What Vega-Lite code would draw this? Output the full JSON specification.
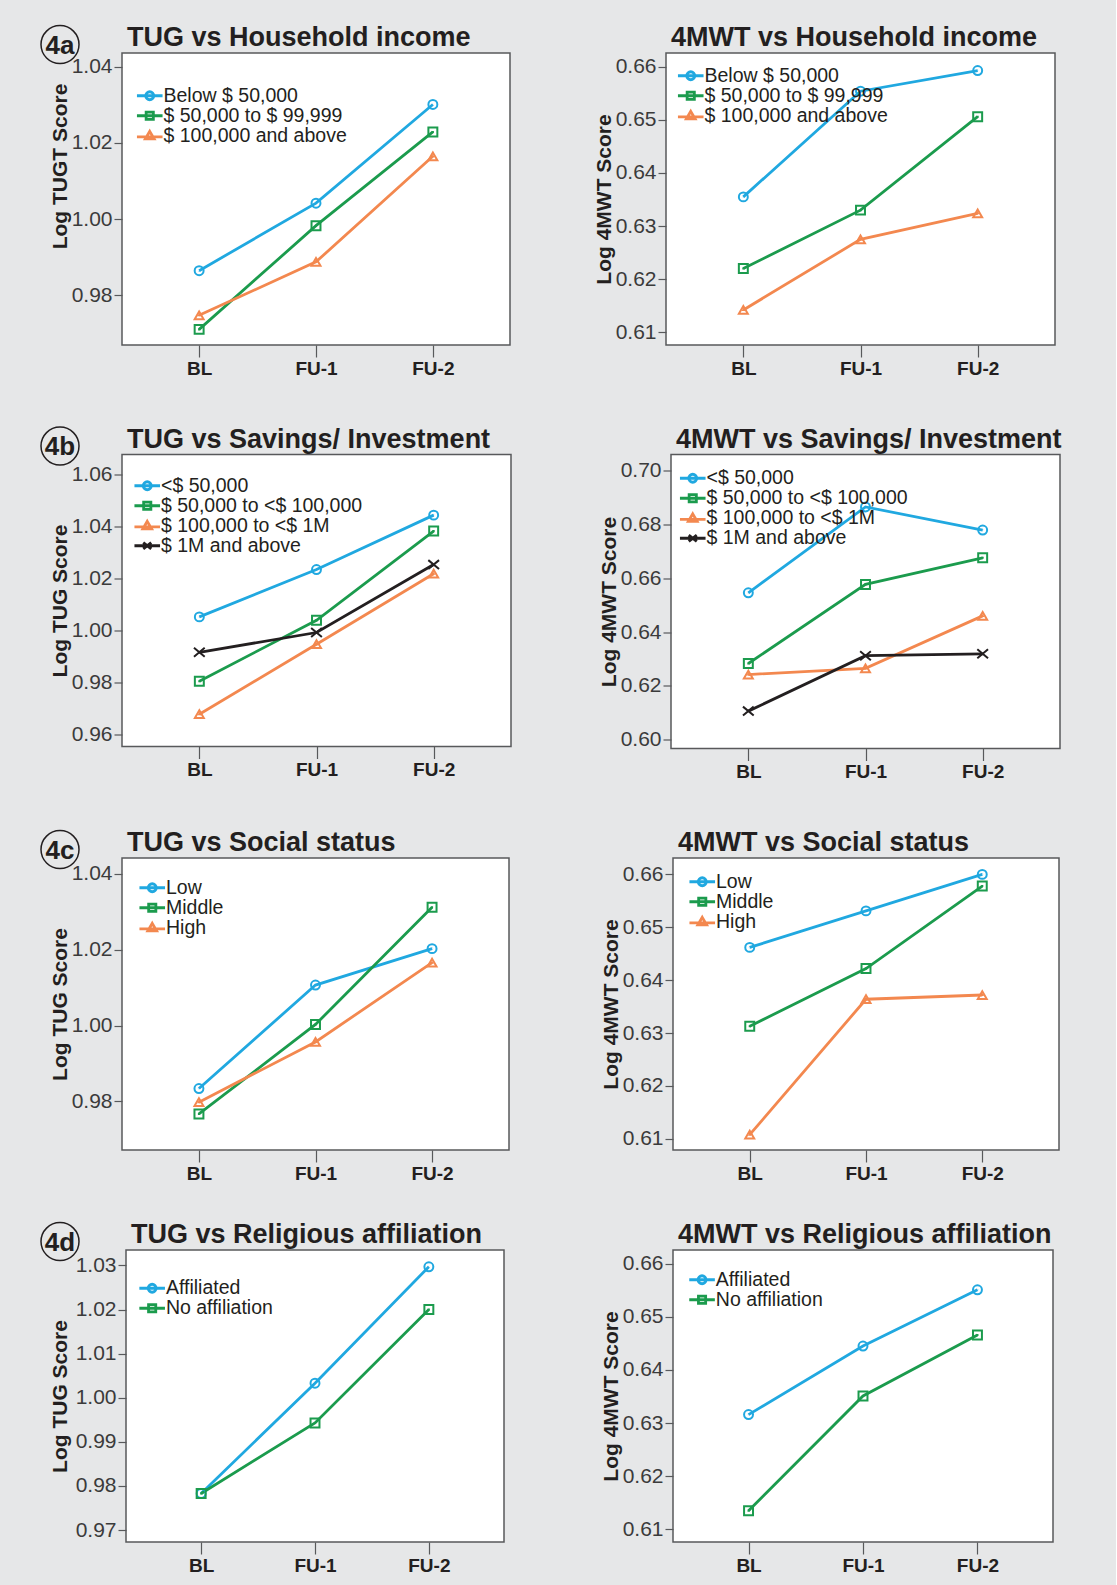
{
  "$schema": "https://vega.github.io/schema/vega-lite/v6.json",
  "background": "#e6e7e8",
  "padding": {"left": 38, "top": 22, "right": 53, "bottom": 10},
  "config": {
    "font": "Liberation Sans",
    "view": {"fill": "white", "stroke": "#58595b", "strokeWidth": 1.5},
    "title": {"anchor": "start", "frame": "group", "fontSize": 27, "fontWeight": "bold", "color": "#231f20", "offset": 1, "dx": 5, "baseline": "alphabetic"},
    "axisY": {"labelFontSize": 21, "labelColor": "#3b3b3b", "tickSize": 8, "tickColor": "#58595b", "tickWidth": 1.2, "labelPadding": 2, "domain": false, "grid": false, "titleFontSize": 21, "titleFontWeight": "bold", "titleColor": "#231f20", "titlePadding": 2, "minExtent": 50, "maxExtent": 50},
    "axisX": {"labelFontSize": 19, "labelFontWeight": "bold", "labelColor": "#231f20", "tickSize": 12, "tickColor": "#58595b", "tickWidth": 1.2, "labelPadding": 2, "domain": false, "grid": false, "labelAngle": 0},
    "legend": {"labelFontSize": 19.5, "labelColor": "#231f20", "padding": 0, "rowPadding": -4.5, "symbolStrokeWidth": 2, "labelLimit": 400, "symbolSize": 256, "labelOffset": 4, "direction": "vertical", "orient": "none", "title": null},
    "point": {"filled": false, "strokeWidth": 2, "size": 80, "opacity": 1},
    "line": {"strokeWidth": 2.8}
  },
  "datasets": {
    "a_tug": [
      {"time": "BL", "group": "Below $ 50,000", "value": 0.9865},
      {"time": "FU-1", "group": "Below $ 50,000", "value": 1.0042},
      {"time": "FU-2", "group": "Below $ 50,000", "value": 1.0301},
      {"time": "BL", "group": "$ 50,000 to $ 99,999", "value": 0.9711},
      {"time": "FU-1", "group": "$ 50,000 to $ 99,999", "value": 0.9983},
      {"time": "FU-2", "group": "$ 50,000 to $ 99,999", "value": 1.0229},
      {"time": "BL", "group": "$ 100,000 and above", "value": 0.9748},
      {"time": "FU-1", "group": "$ 100,000 and above", "value": 0.9888},
      {"time": "FU-2", "group": "$ 100,000 and above", "value": 1.0165}
    ],
    "a_mwt": [
      {"time": "BL", "group": "Below $ 50,000", "value": 0.6355},
      {"time": "FU-1", "group": "Below $ 50,000", "value": 0.6554},
      {"time": "FU-2", "group": "Below $ 50,000", "value": 0.6593},
      {"time": "BL", "group": "$ 50,000 to $ 99,999", "value": 0.6220},
      {"time": "FU-1", "group": "$ 50,000 to $ 99,999", "value": 0.6330},
      {"time": "FU-2", "group": "$ 50,000 to $ 99,999", "value": 0.6506},
      {"time": "BL", "group": "$ 100,000 and above", "value": 0.6142},
      {"time": "FU-1", "group": "$ 100,000 and above", "value": 0.6275},
      {"time": "FU-2", "group": "$ 100,000 and above", "value": 0.6324}
    ],
    "b_tug": [
      {"time": "BL", "group": "<$ 50,000", "value": 1.0051},
      {"time": "FU-1", "group": "<$ 50,000", "value": 1.0233},
      {"time": "FU-2", "group": "<$ 50,000", "value": 1.0442},
      {"time": "BL", "group": "$ 50,000 to <$ 100,000", "value": 0.9804},
      {"time": "FU-1", "group": "$ 50,000 to <$ 100,000", "value": 1.0038},
      {"time": "FU-2", "group": "$ 50,000 to <$ 100,000", "value": 1.0381},
      {"time": "BL", "group": "$ 100,000 to <$ 1M", "value": 0.9677},
      {"time": "FU-1", "group": "$ 100,000 to <$ 1M", "value": 0.9946},
      {"time": "FU-2", "group": "$ 100,000 to <$ 1M", "value": 1.0217},
      {"time": "BL", "group": "$ 1M and above", "value": 0.9915},
      {"time": "FU-1", "group": "$ 1M and above", "value": 0.9991},
      {"time": "FU-2", "group": "$ 1M and above", "value": 1.0252}
    ],
    "b_mwt": [
      {"time": "BL", "group": "<$ 50,000", "value": 0.6546},
      {"time": "FU-1", "group": "<$ 50,000", "value": 0.6865},
      {"time": "FU-2", "group": "<$ 50,000", "value": 0.6779},
      {"time": "BL", "group": "$ 50,000 to <$ 100,000", "value": 0.6283},
      {"time": "FU-1", "group": "$ 50,000 to <$ 100,000", "value": 0.6577},
      {"time": "FU-2", "group": "$ 50,000 to <$ 100,000", "value": 0.6676},
      {"time": "BL", "group": "$ 100,000 to <$ 1M", "value": 0.6242},
      {"time": "FU-1", "group": "$ 100,000 to <$ 1M", "value": 0.6265},
      {"time": "FU-2", "group": "$ 100,000 to <$ 1M", "value": 0.6460},
      {"time": "BL", "group": "$ 1M and above", "value": 0.6106},
      {"time": "FU-1", "group": "$ 1M and above", "value": 0.6312},
      {"time": "FU-2", "group": "$ 1M and above", "value": 0.6319}
    ],
    "c_tug": [
      {"time": "BL", "group": "Low", "value": 0.9834},
      {"time": "FU-1", "group": "Low", "value": 1.0107},
      {"time": "FU-2", "group": "Low", "value": 1.0203},
      {"time": "BL", "group": "Middle", "value": 0.9767},
      {"time": "FU-1", "group": "Middle", "value": 1.0003},
      {"time": "FU-2", "group": "Middle", "value": 1.0312},
      {"time": "BL", "group": "High", "value": 0.9798},
      {"time": "FU-1", "group": "High", "value": 0.9957},
      {"time": "FU-2", "group": "High", "value": 1.0166}
    ],
    "c_mwt": [
      {"time": "BL", "group": "Low", "value": 0.6462},
      {"time": "FU-1", "group": "Low", "value": 0.6531},
      {"time": "FU-2", "group": "Low", "value": 0.6600},
      {"time": "BL", "group": "Middle", "value": 0.6313},
      {"time": "FU-1", "group": "Middle", "value": 0.6422},
      {"time": "FU-2", "group": "Middle", "value": 0.6578},
      {"time": "BL", "group": "High", "value": 0.6108},
      {"time": "FU-1", "group": "High", "value": 0.6364},
      {"time": "FU-2", "group": "High", "value": 0.6372}
    ],
    "d_tug": [
      {"time": "BL", "group": "Affiliated", "value": 0.9783},
      {"time": "FU-1", "group": "Affiliated", "value": 1.0033},
      {"time": "FU-2", "group": "Affiliated", "value": 1.0297},
      {"time": "BL", "group": "No affiliation", "value": 0.9783},
      {"time": "FU-1", "group": "No affiliation", "value": 0.9943},
      {"time": "FU-2", "group": "No affiliation", "value": 1.0200}
    ],
    "d_mwt": [
      {"time": "BL", "group": "Affiliated", "value": 0.6316},
      {"time": "FU-1", "group": "Affiliated", "value": 0.6445},
      {"time": "FU-2", "group": "Affiliated", "value": 0.6551},
      {"time": "BL", "group": "No affiliation", "value": 0.6135},
      {"time": "FU-1", "group": "No affiliation", "value": 0.6351},
      {"time": "FU-2", "group": "No affiliation", "value": 0.6466}
    ]
  },
  "resolve": {"scale": {"color": "independent", "shape": "independent"}, "legend": {"color": "independent", "shape": "independent"}},
  "vconcat": [
    {
      "resolve": {"scale": {"color": "independent", "shape": "independent"}, "legend": {"color": "independent", "shape": "independent"}},
      "vconcat": [
        {
          "resolve": {"scale": {"color": "independent", "shape": "independent"}, "legend": {"color": "independent", "shape": "independent"}},
          "hconcat": [
            {
              "resolve": {"scale": {"color": "independent", "shape": "independent"}, "legend": {"color": "independent", "shape": "independent"}},
              "hconcat": [
                {
                  "width": 38, "height": 1,
                  "view": {"fill": null, "stroke": null},
                  "data": {"values": [{"label": "4a"}]},
                  "layer": [
                    {"mark": {"type": "point", "shape": "M1,-0.47A1,1,0,1,1,-1,-0.47A1,1,0,1,1,1,-0.47Z", "size": 1444, "filled": false, "stroke": "#231f20", "strokeWidth": 1.5, "opacity": 1}, "encoding": {}},
                    {"mark": {"type": "text", "fontSize": 26, "fontWeight": "bold", "color": "#231f20", "baseline": "alphabetic"}, "encoding": {"text": {"field": "label"}}}
                  ]
                },
                {
                  "width": 388, "height": 292,
                  "title": "TUG vs Household income",
                  "data": {"name": "a_tug"},
                  "encoding": {
                    "x": {"field": "time", "type": "ordinal", "scale": {"type": "point", "domain": ["BL", "FU-1", "FU-2"], "padding": 0.66}, "axis": {"title": null}},
                    "y": {"field": "value", "type": "quantitative", "scale": {"domain": [0.967, 1.0436], "nice": false, "zero": false}, "axis": {"title": "Log TUGT Score", "titleY": 113, "values": [0.98, 1.0, 1.02, 1.04], "format": ".2f"}},
                    "color": {"field": "group", "type": "nominal", "scale": {"domain": ["Below $ 50,000", "$ 50,000 to $ 99,999", "$ 100,000 and above"], "range": ["#20a8e0", "#1b9b4d", "#f3884f"]}, "legend": {"legendX": 18, "legendY": 33}}
                  },
                  "layer": [
                    {"mark": {"type": "line"}, "encoding": {}},
                    {"mark": {"type": "point", "size": 0.01}, "encoding": {"shape": {"field": "group", "type": "nominal", "scale": {"domain": ["Below $ 50,000", "$ 50,000 to $ 99,999", "$ 100,000 and above"], "range": ["M-1.6,0L1.6,0M0.5,0A0.5,0.5,0,1,1,-0.5,0A0.5,0.5,0,1,1,0.5,0", "M-1.6,0L1.6,0M-0.45,-0.45L0.45,-0.45L0.45,0.45L-0.45,0.45Z", "M-1.6,0.15L1.6,0.15M0,-0.55L0.55,0.4L-0.55,0.4Z"]}, "legend": null}}},
                    {"transform": [{"filter": {"field": "group", "equal": "Below $ 50,000"}}], "mark": {"type": "point", "shape": "circle"}},
                    {"transform": [{"filter": {"field": "group", "equal": "$ 50,000 to $ 99,999"}}], "mark": {"type": "point", "shape": "square"}},
                    {"transform": [{"filter": {"field": "group", "equal": "$ 100,000 and above"}}], "mark": {"type": "point", "shape": "triangle-up"}}
                  ]
                }
              ],
              "spacing": -34
            },
            {
              "width": 389, "height": 292,
              "title": "4MWT vs Household income",
              "data": {"name": "a_mwt"},
              "encoding": {
                "x": {"field": "time", "type": "ordinal", "scale": {"type": "point", "domain": ["BL", "FU-1", "FU-2"], "padding": 0.66}, "axis": {"title": null}},
                "y": {"field": "value", "type": "quantitative", "scale": {"domain": [0.6076, 0.6626], "nice": false, "zero": false}, "axis": {"title": "Log 4MWT Score", "values": [0.61, 0.62, 0.63, 0.64, 0.65, 0.66], "format": ".2f"}},
                "color": {"field": "group", "type": "nominal", "scale": {"domain": ["Below $ 50,000", "$ 50,000 to $ 99,999", "$ 100,000 and above"], "range": ["#20a8e0", "#1b9b4d", "#f3884f"]}, "legend": {"legendX": 15, "legendY": 13}}
              },
              "layer": [
                {"mark": {"type": "line"}, "encoding": {}},
                {"mark": {"type": "point", "size": 0.01}, "encoding": {"shape": {"field": "group", "type": "nominal", "scale": {"domain": ["Below $ 50,000", "$ 50,000 to $ 99,999", "$ 100,000 and above"], "range": ["M-1.6,0L1.6,0M0.5,0A0.5,0.5,0,1,1,-0.5,0A0.5,0.5,0,1,1,0.5,0", "M-1.6,0L1.6,0M-0.45,-0.45L0.45,-0.45L0.45,0.45L-0.45,0.45Z", "M-1.6,0.15L1.6,0.15M0,-0.55L0.55,0.4L-0.55,0.4Z"]}, "legend": null}}},
                {"transform": [{"filter": {"field": "group", "equal": "Below $ 50,000"}}], "mark": {"type": "point", "shape": "circle"}},
                {"transform": [{"filter": {"field": "group", "equal": "$ 50,000 to $ 99,999"}}], "mark": {"type": "point", "shape": "square"}},
                {"transform": [{"filter": {"field": "group", "equal": "$ 100,000 and above"}}], "mark": {"type": "point", "shape": "triangle-up"}}
              ]
            }
          ],
          "spacing": 81
        },
        {
          "resolve": {"scale": {"color": "independent", "shape": "independent"}, "legend": {"color": "independent", "shape": "independent"}},
          "hconcat": [
            {
              "resolve": {"scale": {"color": "independent", "shape": "independent"}, "legend": {"color": "independent", "shape": "independent"}},
              "hconcat": [
                {
                  "width": 38, "height": 1,
                  "view": {"fill": null, "stroke": null},
                  "data": {"values": [{"label": "4b"}]},
                  "layer": [
                    {"mark": {"type": "point", "shape": "M1,-0.47A1,1,0,1,1,-1,-0.47A1,1,0,1,1,1,-0.47Z", "size": 1444, "filled": false, "stroke": "#231f20", "strokeWidth": 1.5, "opacity": 1}, "encoding": {}},
                    {"mark": {"type": "text", "fontSize": 26, "fontWeight": "bold", "color": "#231f20", "baseline": "alphabetic"}, "encoding": {"text": {"field": "label"}}}
                  ]
                },
                {
                  "width": 389, "height": 292,
                  "title": "TUG vs Savings/ Investment",
                  "data": {"name": "b_tug"},
                  "encoding": {
                    "x": {"field": "time", "type": "ordinal", "scale": {"type": "point", "domain": ["BL", "FU-1", "FU-2"], "padding": 0.66}, "axis": {"title": null}},
                    "y": {"field": "value", "type": "quantitative", "scale": {"domain": [0.9553, 1.0675], "nice": false, "zero": false}, "axis": {"title": "Log TUG Score", "values": [0.96, 0.98, 1.0, 1.02, 1.04, 1.06], "format": ".2f"}},
                    "color": {"field": "group", "type": "nominal", "scale": {"domain": ["<$ 50,000", "$ 50,000 to <$ 100,000", "$ 100,000 to <$ 1M", "$ 1M and above"], "range": ["#20a8e0", "#1b9b4d", "#f3884f", "#231f20"]}, "legend": {"legendX": 15.5, "legendY": 21.5}}
                  },
                  "layer": [
                    {"mark": {"type": "line"}, "encoding": {}},
                    {"mark": {"type": "point", "size": 0.01}, "encoding": {"shape": {"field": "group", "type": "nominal", "scale": {"domain": ["<$ 50,000", "$ 50,000 to <$ 100,000", "$ 100,000 to <$ 1M", "$ 1M and above"], "range": ["M-1.6,0L1.6,0M0.5,0A0.5,0.5,0,1,1,-0.5,0A0.5,0.5,0,1,1,0.5,0", "M-1.6,0L1.6,0M-0.45,-0.45L0.45,-0.45L0.45,0.45L-0.45,0.45Z", "M-1.6,0.15L1.6,0.15M0,-0.55L0.55,0.4L-0.55,0.4Z", "M-1.6,0L1.6,0M-0.5,-0.4L0.5,0.4M-0.5,0.4L0.5,-0.4"]}, "legend": null}}},
                    {"transform": [{"filter": {"field": "group", "equal": "<$ 50,000"}}], "mark": {"type": "point", "shape": "circle"}},
                    {"transform": [{"filter": {"field": "group", "equal": "$ 50,000 to <$ 100,000"}}], "mark": {"type": "point", "shape": "square"}},
                    {"transform": [{"filter": {"field": "group", "equal": "$ 100,000 to <$ 1M"}}], "mark": {"type": "point", "shape": "triangle-up"}},
                    {"transform": [{"filter": {"field": "group", "equal": "$ 1M and above"}}], "mark": {"type": "point", "shape": "M-1.2,-1L1.2,1M-1.2,1L1.2,-1"}}
                  ]
                }
              ],
              "spacing": -34
            },
            {
              "width": 389, "height": 294,
              "title": "4MWT vs Savings/ Investment",
              "data": {"name": "b_mwt"},
              "encoding": {
                "x": {"field": "time", "type": "ordinal", "scale": {"type": "point", "domain": ["BL", "FU-1", "FU-2"], "padding": 0.66}, "axis": {"title": null}},
                "y": {"field": "value", "type": "quantitative", "scale": {"domain": [0.5967, 0.706], "nice": false, "zero": false}, "axis": {"title": "Log 4MWT Score", "values": [0.6, 0.62, 0.64, 0.66, 0.68, 0.7], "format": ".2f"}},
                "color": {"field": "group", "type": "nominal", "scale": {"domain": ["<$ 50,000", "$ 50,000 to <$ 100,000", "$ 100,000 to <$ 1M", "$ 1M and above"], "range": ["#20a8e0", "#1b9b4d", "#f3884f", "#231f20"]}, "legend": {"legendX": 12, "legendY": 14}}
              },
              "layer": [
                {"mark": {"type": "line"}, "encoding": {}},
                {"mark": {"type": "point", "size": 0.01}, "encoding": {"shape": {"field": "group", "type": "nominal", "scale": {"domain": ["<$ 50,000", "$ 50,000 to <$ 100,000", "$ 100,000 to <$ 1M", "$ 1M and above"], "range": ["M-1.6,0L1.6,0M0.5,0A0.5,0.5,0,1,1,-0.5,0A0.5,0.5,0,1,1,0.5,0", "M-1.6,0L1.6,0M-0.45,-0.45L0.45,-0.45L0.45,0.45L-0.45,0.45Z", "M-1.6,0.15L1.6,0.15M0,-0.55L0.55,0.4L-0.55,0.4Z", "M-1.6,0L1.6,0M-0.5,-0.4L0.5,0.4M-0.5,0.4L0.5,-0.4"]}, "legend": null}}},
                {"transform": [{"filter": {"field": "group", "equal": "<$ 50,000"}}], "mark": {"type": "point", "shape": "circle"}},
                {"transform": [{"filter": {"field": "group", "equal": "$ 50,000 to <$ 100,000"}}], "mark": {"type": "point", "shape": "square"}},
                {"transform": [{"filter": {"field": "group", "equal": "$ 100,000 to <$ 1M"}}], "mark": {"type": "point", "shape": "triangle-up"}},
                {"transform": [{"filter": {"field": "group", "equal": "$ 1M and above"}}], "mark": {"type": "point", "shape": "M-1.2,-1L1.2,1M-1.2,1L1.2,-1"}}
              ]
            }
          ],
          "spacing": 85
        },
        {
          "resolve": {"scale": {"color": "independent", "shape": "independent"}, "legend": {"color": "independent", "shape": "independent"}},
          "hconcat": [
            {
              "resolve": {"scale": {"color": "independent", "shape": "independent"}, "legend": {"color": "independent", "shape": "independent"}},
              "hconcat": [
                {
                  "width": 38, "height": 1,
                  "view": {"fill": null, "stroke": null},
                  "data": {"values": [{"label": "4c"}]},
                  "layer": [
                    {"mark": {"type": "point", "shape": "M1,-0.47A1,1,0,1,1,-1,-0.47A1,1,0,1,1,1,-0.47Z", "size": 1444, "filled": false, "stroke": "#231f20", "strokeWidth": 1.5, "opacity": 1}, "encoding": {}},
                    {"mark": {"type": "text", "fontSize": 26, "fontWeight": "bold", "color": "#231f20", "baseline": "alphabetic"}, "encoding": {"text": {"field": "label"}}}
                  ]
                },
                {
                  "width": 387, "height": 292,
                  "title": "TUG vs Social status",
                  "data": {"name": "c_tug"},
                  "encoding": {
                    "x": {"field": "time", "type": "ordinal", "scale": {"type": "point", "domain": ["BL", "FU-1", "FU-2"], "padding": 0.66}, "axis": {"title": null}},
                    "y": {"field": "value", "type": "quantitative", "scale": {"domain": [0.9672, 1.0442], "nice": false, "zero": false}, "axis": {"title": "Log TUG Score", "values": [0.98, 1.0, 1.02, 1.04], "format": ".2f"}},
                    "color": {"field": "group", "type": "nominal", "scale": {"domain": ["Low", "Middle", "High"], "range": ["#20a8e0", "#1b9b4d", "#f3884f"]}, "legend": {"legendX": 20.5, "legendY": 20}}
                  },
                  "layer": [
                    {"mark": {"type": "line"}, "encoding": {}},
                    {"mark": {"type": "point", "size": 0.01}, "encoding": {"shape": {"field": "group", "type": "nominal", "scale": {"domain": ["Low", "Middle", "High"], "range": ["M-1.6,0L1.6,0M0.5,0A0.5,0.5,0,1,1,-0.5,0A0.5,0.5,0,1,1,0.5,0", "M-1.6,0L1.6,0M-0.45,-0.45L0.45,-0.45L0.45,0.45L-0.45,0.45Z", "M-1.6,0.15L1.6,0.15M0,-0.55L0.55,0.4L-0.55,0.4Z"]}, "legend": null}}},
                    {"transform": [{"filter": {"field": "group", "equal": "Low"}}], "mark": {"type": "point", "shape": "circle"}},
                    {"transform": [{"filter": {"field": "group", "equal": "Middle"}}], "mark": {"type": "point", "shape": "square"}},
                    {"transform": [{"filter": {"field": "group", "equal": "High"}}], "mark": {"type": "point", "shape": "triangle-up"}}
                  ]
                }
              ],
              "spacing": -34
            },
            {
              "width": 386, "height": 292,
              "title": "4MWT vs Social status",
              "data": {"name": "c_mwt"},
              "encoding": {
                "x": {"field": "time", "type": "ordinal", "scale": {"type": "point", "domain": ["BL", "FU-1", "FU-2"], "padding": 0.66}, "axis": {"title": null}},
                "y": {"field": "value", "type": "quantitative", "scale": {"domain": [0.6079, 0.6631], "nice": false, "zero": false}, "axis": {"title": "Log 4MWT Score", "values": [0.61, 0.62, 0.63, 0.64, 0.65, 0.66], "format": ".2f"}},
                "color": {"field": "group", "type": "nominal", "scale": {"domain": ["Low", "Middle", "High"], "range": ["#20a8e0", "#1b9b4d", "#f3884f"]}, "legend": {"legendX": 19.5, "legendY": 14}}
              },
              "layer": [
                {"mark": {"type": "line"}, "encoding": {}},
                {"mark": {"type": "point", "size": 0.01}, "encoding": {"shape": {"field": "group", "type": "nominal", "scale": {"domain": ["Low", "Middle", "High"], "range": ["M-1.6,0L1.6,0M0.5,0A0.5,0.5,0,1,1,-0.5,0A0.5,0.5,0,1,1,0.5,0", "M-1.6,0L1.6,0M-0.45,-0.45L0.45,-0.45L0.45,0.45L-0.45,0.45Z", "M-1.6,0.15L1.6,0.15M0,-0.55L0.55,0.4L-0.55,0.4Z"]}, "legend": null}}},
                {"transform": [{"filter": {"field": "group", "equal": "Low"}}], "mark": {"type": "point", "shape": "circle"}},
                {"transform": [{"filter": {"field": "group", "equal": "Middle"}}], "mark": {"type": "point", "shape": "square"}},
                {"transform": [{"filter": {"field": "group", "equal": "High"}}], "mark": {"type": "point", "shape": "triangle-up"}}
              ]
            }
          ],
          "spacing": 89
        }
      ],
      "spacing": 44.5
    },
    {
      "resolve": {"scale": {"color": "independent", "shape": "independent"}, "legend": {"color": "independent", "shape": "independent"}},
      "hconcat": [
        {
          "resolve": {"scale": {"color": "independent", "shape": "independent"}, "legend": {"color": "independent", "shape": "independent"}},
          "hconcat": [
            {
              "width": 38, "height": 1,
              "view": {"fill": null, "stroke": null},
              "data": {"values": [{"label": "4d"}]},
              "layer": [
                {"mark": {"type": "point", "shape": "M1,-0.47A1,1,0,1,1,-1,-0.47A1,1,0,1,1,1,-0.47Z", "size": 1444, "filled": false, "stroke": "#231f20", "strokeWidth": 1.5, "opacity": 1}, "encoding": {}},
                {"mark": {"type": "text", "fontSize": 26, "fontWeight": "bold", "color": "#231f20", "baseline": "alphabetic"}, "encoding": {"text": {"field": "label"}}}
              ]
            },
            {
              "width": 378, "height": 292,
              "title": "TUG vs Religious affiliation",
              "data": {"name": "d_tug"},
              "encoding": {
                "x": {"field": "time", "type": "ordinal", "scale": {"type": "point", "domain": ["BL", "FU-1", "FU-2"], "padding": 0.66}, "axis": {"title": null}},
                "y": {"field": "value", "type": "quantitative", "scale": {"domain": [0.9673, 1.0335], "nice": false, "zero": false}, "axis": {"title": "Log TUG Score", "values": [0.97, 0.98, 0.99, 1.0, 1.01, 1.02, 1.03], "format": ".2f", "minExtent": 54, "maxExtent": 54}},
                "color": {"field": "group", "type": "nominal", "scale": {"domain": ["Affiliated", "No affiliation"], "range": ["#20a8e0", "#1b9b4d"]}, "legend": {"legendX": 16.4, "legendY": 28.5}}
              },
              "layer": [
                {"mark": {"type": "line"}, "encoding": {}},
                {"mark": {"type": "point", "size": 0.01}, "encoding": {"shape": {"field": "group", "type": "nominal", "scale": {"domain": ["Affiliated", "No affiliation"], "range": ["M-1.6,0L1.6,0M0.5,0A0.5,0.5,0,1,1,-0.5,0A0.5,0.5,0,1,1,0.5,0", "M-1.6,0L1.6,0M-0.45,-0.45L0.45,-0.45L0.45,0.45L-0.45,0.45Z"]}, "legend": null}}},
                {"transform": [{"filter": {"field": "group", "equal": "Affiliated"}}], "mark": {"type": "point", "shape": "circle"}},
                {"transform": [{"filter": {"field": "group", "equal": "No affiliation"}}], "mark": {"type": "point", "shape": "square"}}
              ]
            }
          ],
          "spacing": -34
        },
        {
          "width": 380, "height": 292,
          "title": "4MWT vs Religious affiliation",
          "data": {"name": "d_mwt"},
          "encoding": {
            "x": {"field": "time", "type": "ordinal", "scale": {"type": "point", "domain": ["BL", "FU-1", "FU-2"], "padding": 0.66}, "axis": {"title": null}},
            "y": {"field": "value", "type": "quantitative", "scale": {"domain": [0.6076, 0.6626], "nice": false, "zero": false}, "axis": {"title": "Log 4MWT Score", "values": [0.61, 0.62, 0.63, 0.64, 0.65, 0.66], "format": ".2f"}},
            "color": {"field": "group", "type": "nominal", "scale": {"domain": ["Affiliated", "No affiliation"], "range": ["#20a8e0", "#1b9b4d"]}, "legend": {"legendX": 19.3, "legendY": 20}}
          },
          "layer": [
            {"mark": {"type": "line"}, "encoding": {}},
            {"mark": {"type": "point", "size": 0.01}, "encoding": {"shape": {"field": "group", "type": "nominal", "scale": {"domain": ["Affiliated", "No affiliation"], "range": ["M-1.6,0L1.6,0M0.5,0A0.5,0.5,0,1,1,-0.5,0A0.5,0.5,0,1,1,0.5,0", "M-1.6,0L1.6,0M-0.45,-0.45L0.45,-0.45L0.45,0.45L-0.45,0.45Z"]}, "legend": null}}},
            {"transform": [{"filter": {"field": "group", "equal": "Affiliated"}}], "mark": {"type": "point", "shape": "circle"}},
            {"transform": [{"filter": {"field": "group", "equal": "No affiliation"}}], "mark": {"type": "point", "shape": "square"}}
          ]
        }
      ],
      "spacing": 94
    }
  ],
  "spacing": 35
}
